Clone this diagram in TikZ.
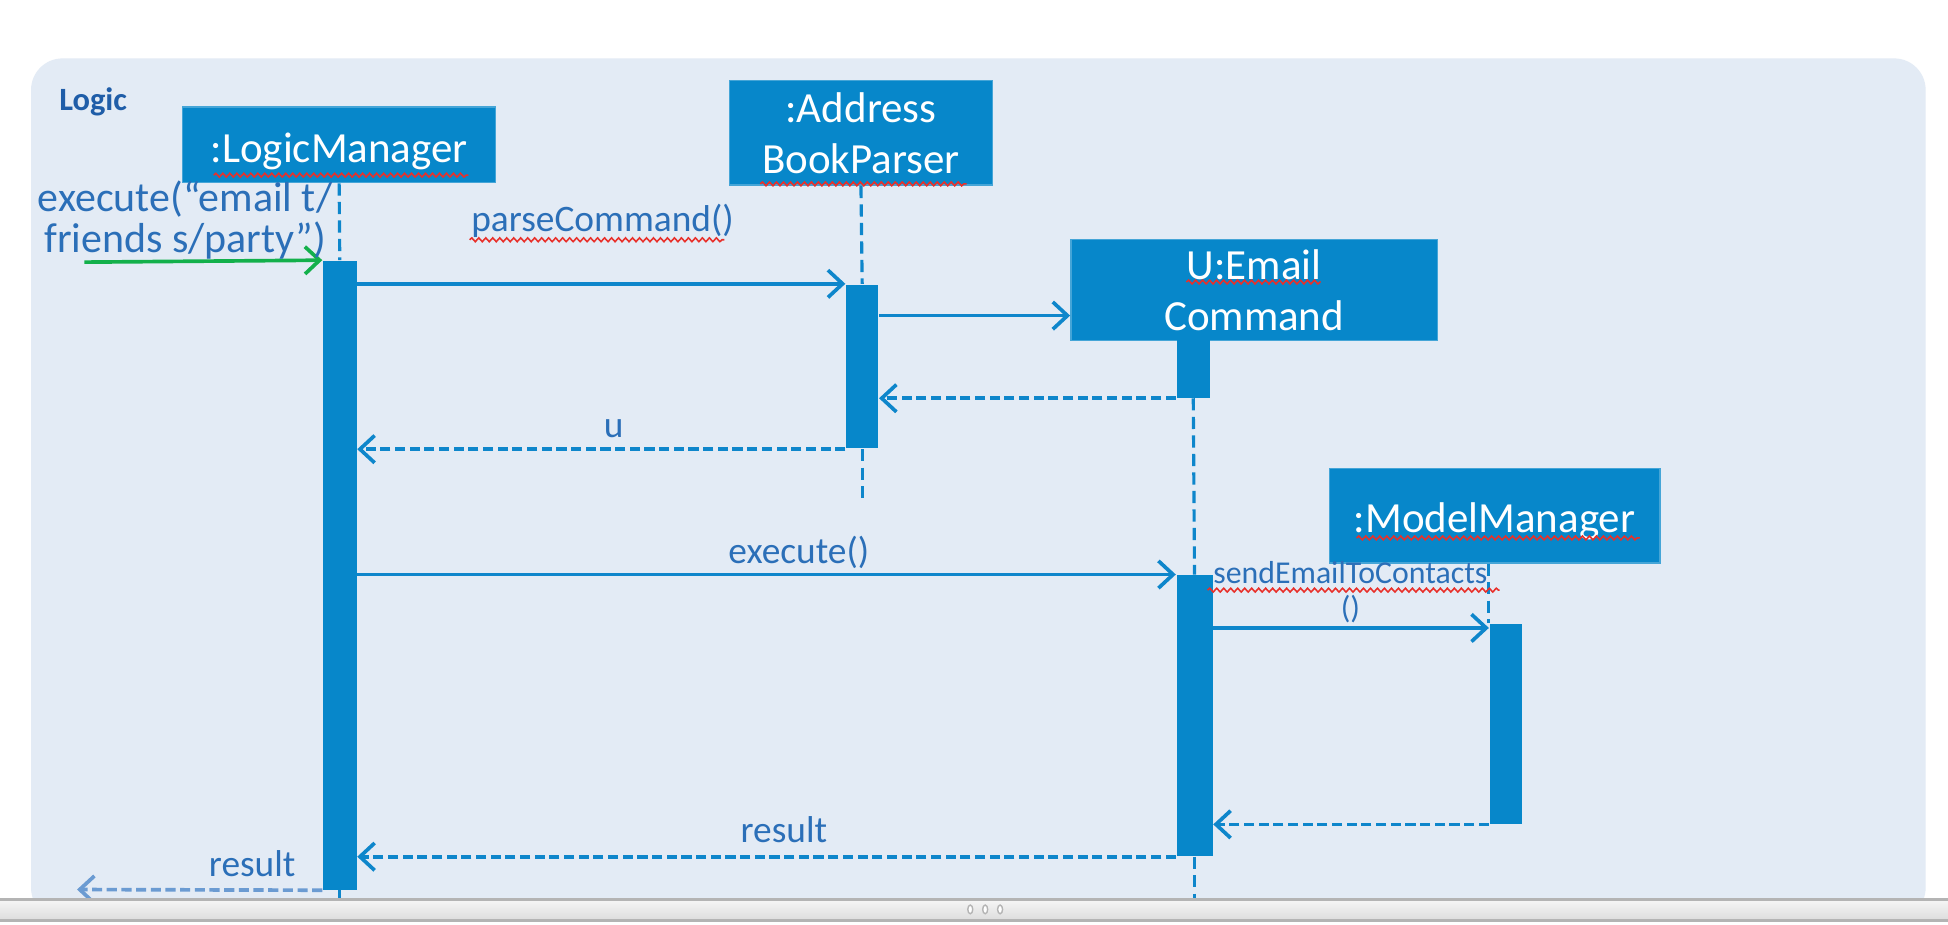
\documentclass[tikz,border=0pt]{standalone}
\usepackage{fontspec}
\setmainfont{Carlito}
\usepackage{xcolor}
\usepackage{tikz}
\usetikzlibrary{calc,fit,arrows.meta,decorations.pathmorphing}
\definecolor{panel}{HTML}{E3EBF5}
\definecolor{objblue}{HTML}{0787CA}
\definecolor{line}{HTML}{0E86CB}
\definecolor{labblue}{HTML}{2B6FB8}
\definecolor{title}{HTML}{1F5DA8}
\definecolor{found}{HTML}{13B04B}
\definecolor{faded}{HTML}{6B9BD2}
\definecolor{squig}{HTML}{E8302A}
\definecolor{barlight}{HTML}{F6F6F6}
\definecolor{bardark}{HTML}{DCDCDC}
\definecolor{baredge}{HTML}{B4B4B4}
\tikzset{
  obj/.style={draw=objblue!75!white, fill=objblue, line width=0.4pt, text=white, align=center, inner sep=0pt, font=\fontsize{12.3}{14.5}\selectfont},
  act/.style={fill=objblue, inner sep=0pt},
  life/.style={draw=line, dash pattern=on 3.5pt off 1.8pt, line width=0.9pt},
  msg/.style={draw=line, line width=1.05pt, -{Straight Barb[length=4.2pt,width=7.8pt]}},
  ret/.style={msg, dash pattern=on 2.9pt off 1.3pt},
  lab/.style={text=labblue, font=\fontsize{10.7}{11.8}\selectfont, align=center},
  spell/.style={draw=squig, line width=0.45pt, decorate, decoration={snake, amplitude=0.55pt, segment length=2pt}}
}

\begin{document}
\begin{tikzpicture}[x=0.0125cm, y=-0.0125cm]
  \useasboundingbox (0,0) rectangle (1568,744);
  \fill[white] (0,0) rectangle (1568,744);
  \fill[panel, rounded corners=9pt] (25,47) rectangle (1550,740);
  \node[font=\bfseries\fontsize{9.3}{11}\selectfont, text=title] (logicLab) at (75,82) {Logic};

  \node[obj, text height=12pt, minimum width=3.15cm, minimum height=0.7625cm] (lm) at (273,116.5) {:LogicManager};
  \node[obj, minimum width=2.65cm, minimum height=1.05cm] (abp) at (693,107) {:Address\\BookParser};
  \node[obj, minimum width=3.6875cm, minimum height=1.0125cm] (ec) at (1009.5,233.5) {U:Email\\Command};
  \node[obj, text height=12pt, minimum width=3.325cm, minimum height=0.95cm] (mm) at (1203,415) {:ModelManager};

  \node[act, fit={(260,210) (287,716)}] (lmAct) {};
  \node[act, fit={(681,229) (707,361)}] (abpAct) {};
  \node[act, fit={(947,274) (974,320)}] (ecAct) {};
  \node[act, fit={(947,463) (976,689)}] (ecRun) {};
  \node[act, fit={(1199,502) (1225,663)}] (mmAct) {};

  \coordinate (lmEnd) at (273.5,728);
  \coordinate (abpEnd) at (694,405);
  \coordinate (ecEnd) at (961.5,728);
  \draw[life] (lm.south) -- (lmAct.north);
  \draw[life] (lmAct.south) -- (lmEnd);
  \draw[life] (abp.south) -- (abpAct.north);
  \draw[life] (abpAct.south) -- (abpEnd);
  \draw[life] (ecAct.south) -- (ecRun.north);
  \draw[life] (ecRun.south) -- (ecEnd);
  \draw[life] (mm.south -| mmAct.north west) -- (mmAct.north west);

  \coordinate (start) at (68,211);
  \draw[msg, draw=found] (start) -- (lmAct.north west);
  \node[lab, font=\fontsize{12}{11.8}\selectfont] (execLab) at (149,177) {execute(“email t/\\friends s/party”)};

  \draw[msg] (lmAct.east |- abpAct.north) -- (abpAct.north west);
  \node[lab] (parseLab) at (485,178) {parseCommand()};

  \coordinate (ecIn) at ($(ec.south west)!.25!(ec.north west)$);
  \draw[msg] (abpAct.east |- ecIn) -- (ecIn);
  \draw[ret] (ecAct.south west) -- (abpAct.east |- ecAct.south west);

  \draw[ret] (abpAct.south west) -- (lmAct.east |- abpAct.south west);
  \node[lab] (uLab) at (494,345) {u};

  \draw[msg] (lmAct.east |- ecRun.north) -- (ecRun.north west);
  \node[lab] (callLab) at (643,445) {execute()};

  \coordinate (mmIn) at ($(mmAct.north west)+(0,4)$);
  \draw[msg] (ecRun.east |- mmIn) -- (mmIn);
  \node[lab, font=\fontsize{9.1}{10}\selectfont] (sendLab) at (1087,477) {sendEmailToContacts\\()};
  \draw[ret] (mmAct.south west) -- (ecRun.east |- mmAct.south west);

  \draw[ret] (ecRun.south west) -- (lmAct.east |- ecRun.south west);
  \node[lab] (resLab) at (631,668) {result};

  \coordinate (out) at (62,716);
  \draw[ret, draw=faded] (lmAct.south west) -- (out);
  \node[lab] (outLab) at (203,695) {result};

  \draw[spell] (172,141) -- (377,141);
  \draw[spell] (612,148) -- (778,148);
  \draw[spell] (955,227) -- (1063,227);
  \draw[spell] (1092,433) -- (1320,433);
  \draw[spell] (378,193) -- (583,193);
  \draw[spell] (972,475) -- (1207,475);

  \shade[top color=barlight, bottom color=bardark] (0,724) rectangle (1568,741);
  \draw[baredge, line width=0.8pt] (0,724) -- (1568,724);
  \draw[baredge, line width=0.8pt] (0,741) -- (1568,741);
  \draw[baredge, fill=white] (781,732) ellipse (2 and 3.5);
  \draw[baredge, fill=white] (793,732) ellipse (2 and 3.5);
  \draw[baredge, fill=white] (805,732) ellipse (2 and 3.5);
\end{tikzpicture}
\end{document}
